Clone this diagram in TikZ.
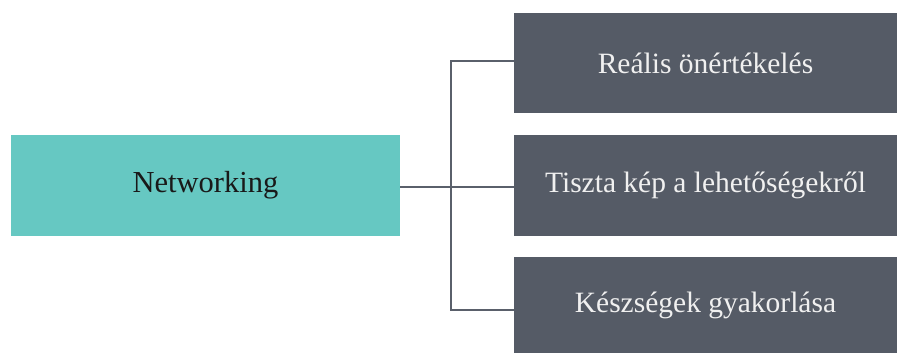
\documentclass[tikz,border=0pt]{standalone}
\usepackage{fontspec}
\setmainfont{Liberation Serif}
\definecolor{tealbox}{HTML}{66C8C2}
\definecolor{darkbox}{HTML}{555B66}
\definecolor{linec}{HTML}{5A606B}
\begin{document}
\begin{tikzpicture}[x=1pt,y=-1pt,
  mainbox/.style={fill=tealbox,draw=none,minimum width=389pt,minimum height=101pt,inner sep=0pt,font=\fontsize{30.5}{33}\selectfont,text=black!90},
  itembox/.style={fill=darkbox,draw=none,minimum width=383pt,inner sep=0pt,font=\fontsize{29.5}{32}\selectfont,text=white!94!black},
  conn/.style={draw=linec,line width=2.8pt}]
\useasboundingbox (0,0) rectangle (897,353);
\node[mainbox] (net) at (205.5,185.5) {Networking};
\node[itembox,minimum height=100pt] (r1) at (705.5,63) {Reális önértékelés};
\node[itembox,minimum height=101pt] (r2) at (705.5,185.5) {Tiszta kép a lehetőségekről};
\node[itembox,minimum height=96pt] (r3) at (705.5,305) {Készségek gyakorlása};
\coordinate (hub) at (451,187);
\draw[conn] (net.east |- hub) -- (hub);
\draw[conn] (hub) -- (r2.west |- hub);
\draw[conn] (r1.west |- 0,61) -- (451,61) -- (451,310) -- (r3.west |- 0,310);
\end{tikzpicture}
\end{document}
